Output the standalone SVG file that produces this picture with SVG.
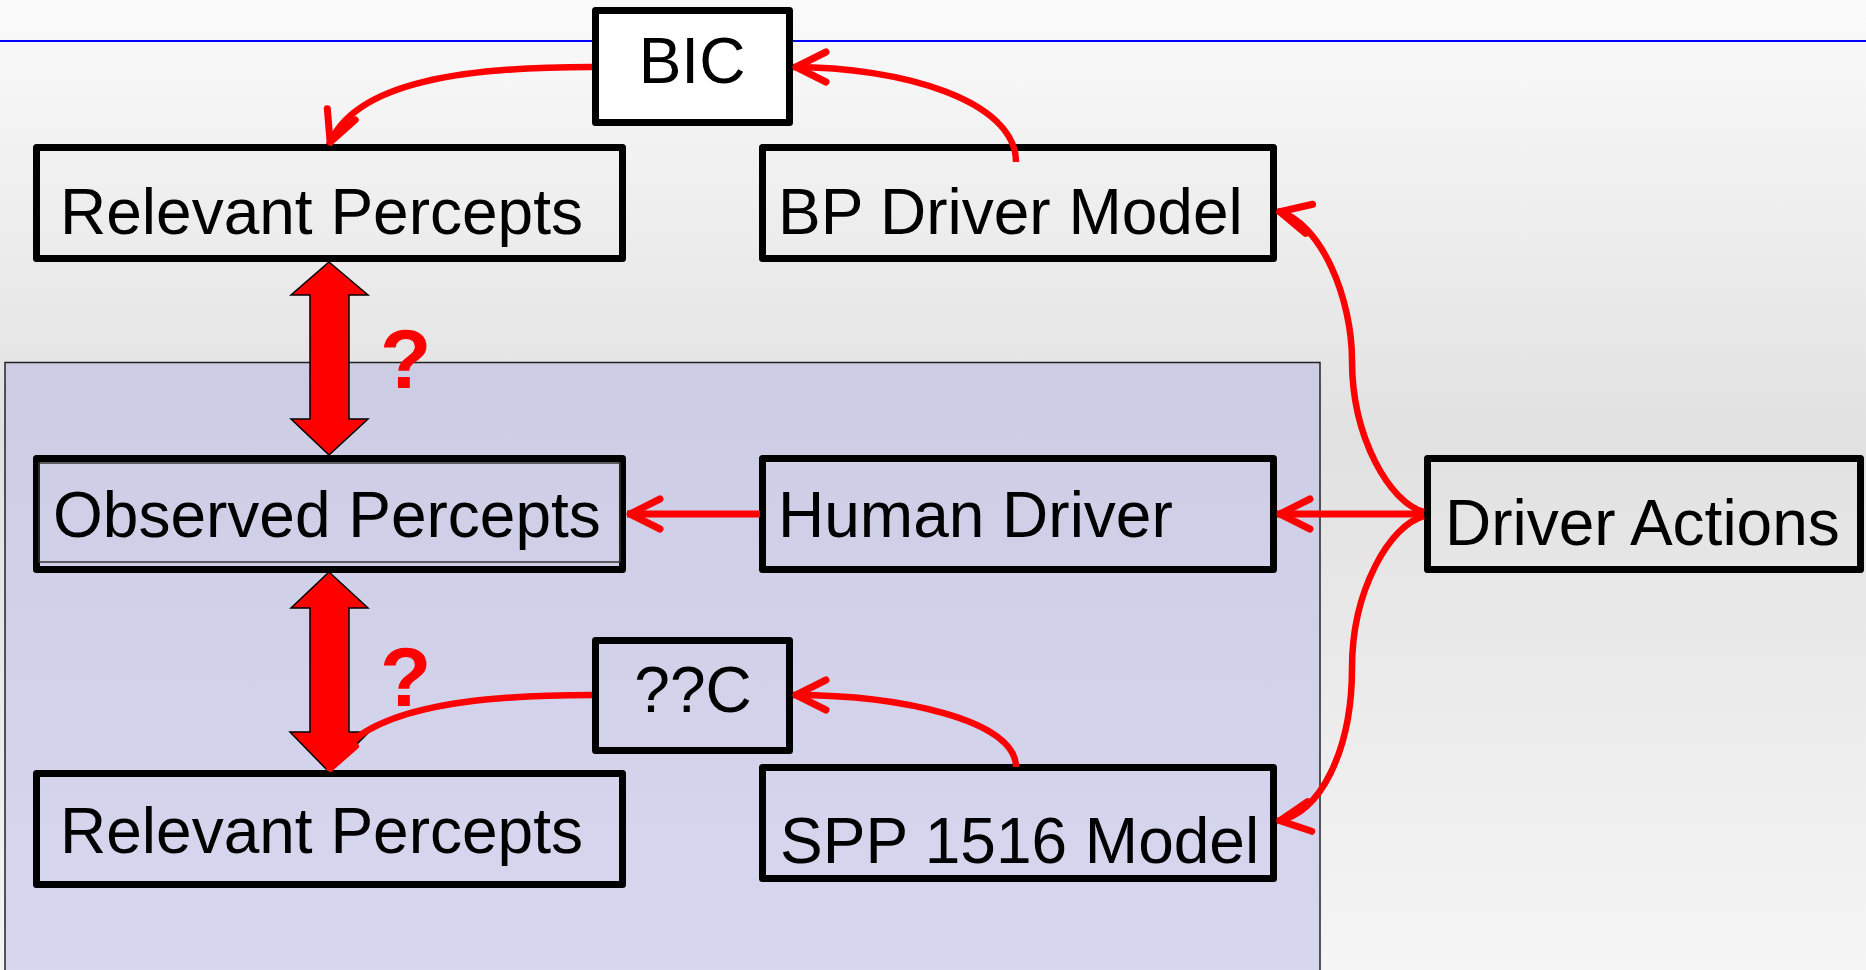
<svg xmlns="http://www.w3.org/2000/svg" width="1866" height="970" viewBox="0 0 1866 970">
<defs>
<linearGradient id="bg" x1="0" y1="0" x2="0" y2="1">
<stop offset="0" stop-color="#FAFAFA"/>
<stop offset="0.45" stop-color="#E1E1E1"/>
<stop offset="1" stop-color="#F5F5F5"/>
</linearGradient>
<linearGradient id="lav" x1="0" y1="0" x2="0" y2="1">
<stop offset="0" stop-color="#CCCCE4"/>
<stop offset="1" stop-color="#D7D7EF"/>
</linearGradient>
<marker id="chev" markerUnits="userSpaceOnUse" viewBox="-45 -25 50 50" markerWidth="50" markerHeight="50" refX="0" refY="0" orient="auto" overflow="visible">
<path d="M-33,-15 L-3,0 L-33,15" fill="none" stroke="#FF0000" stroke-width="7" stroke-linecap="round" stroke-linejoin="round"/>
</marker>
<style>
.box{fill:none;stroke:#000;stroke-width:7;stroke-linejoin:round}
.lbl{font-family:"Liberation Sans",Arial,sans-serif;font-size:64px;fill:#000}
.q{font-family:"Liberation Sans",Arial,sans-serif;font-size:84px;font-weight:bold;fill:#FF0000}
.con{fill:none;stroke:#FF0000;stroke-width:6.5;marker-end:url(#chev)}
.str{stroke-width:7}
.dbl{fill:#FF0000;stroke:#000;stroke-width:1.5;stroke-linejoin:miter}
</style>
</defs>
<rect x="0" y="0" width="1866" height="970" fill="url(#bg)"/>
<line x1="0" y1="41" x2="1866" y2="41" stroke="#0000FF" stroke-width="2"/>
<rect x="5" y="362.5" width="1315" height="620" fill="url(#lav)" stroke="#222" stroke-width="1.5"/>

<g id="bic">
<rect class="box" x="595.5" y="10.5" width="194" height="112" style="fill:#FFFFFF"/>
<text class="lbl" x="692" y="83" text-anchor="middle">BIC</text>
</g>
<g id="relevant-percepts-top">
<rect class="box" x="36.5" y="147.5" width="586" height="111"/>
<text class="lbl" x="60" y="234">Relevant Percepts</text>
</g>
<g id="bp-driver-model">
<rect class="box" x="762.5" y="147.5" width="511" height="111"/>
<text class="lbl" x="778" y="234">BP Driver Model</text>
</g>
<g id="observed-percepts">
<rect class="box" x="36.5" y="458.5" width="586" height="111"/>
<rect x="39" y="463" width="581" height="99" fill="none" stroke="#333" stroke-width="1.5"/>
<text class="lbl" x="53" y="537">Observed Percepts</text>
</g>
<g id="human-driver">
<rect class="box" x="762.5" y="458.5" width="511" height="111"/>
<text class="lbl" x="778" y="537">Human Driver</text>
</g>
<g id="driver-actions">
<rect class="box" x="1427.5" y="458.5" width="433" height="111"/>
<text class="lbl" x="1445" y="545">Driver Actions</text>
</g>
<g id="qqc">
<rect class="box" x="595.5" y="640.5" width="194" height="110"/>
<text class="lbl" x="693" y="712" text-anchor="middle">??C</text>
</g>
<g id="spp-1516-model">
<rect class="box" x="762.5" y="767.5" width="511" height="111"/>
<text class="lbl" x="780" y="863">SPP 1516 Model</text>
</g>
<g id="relevant-percepts-bottom">
<rect class="box" x="36.5" y="773.5" width="586" height="111"/>
<text class="lbl" x="60" y="853">Relevant Percepts</text>
</g>

<g id="connectors">
<polygon class="dbl" points="329,262 368,295 349,295 349,419 368,419 329,455 291,419 310,419 310,295 291,295"/>
<polygon class="dbl" points="329,572 368,608 349,608 349,732 369,732 329,772 290,732 310,732 310,608 291,608"/>
<path class="con" d="M1016,162 C1016,100 900,67 793,67"/>
<path class="con" d="M592,67 C470,67 355,80 329,145"/>
<path class="con str" d="M760,514 L627,514"/>
<path class="con str" d="M1424,514 L1277,514"/>
<path class="con" d="M1424,512 C1390,503 1352,438 1352,360 C1352,300 1322,222 1277,211"/>
<path class="con" d="M1424,516 C1390,525 1352,590 1352,668 C1352,750 1320,815 1277,821"/>
<path class="con" d="M592,695 C470,695 355,708 329,771"/>
<path class="con" d="M1016,767 C1016,720 900,695 793,695"/>
</g>
<text class="q" x="380" y="388">?</text>
<text class="q" x="380" y="706">?</text>
</svg>
